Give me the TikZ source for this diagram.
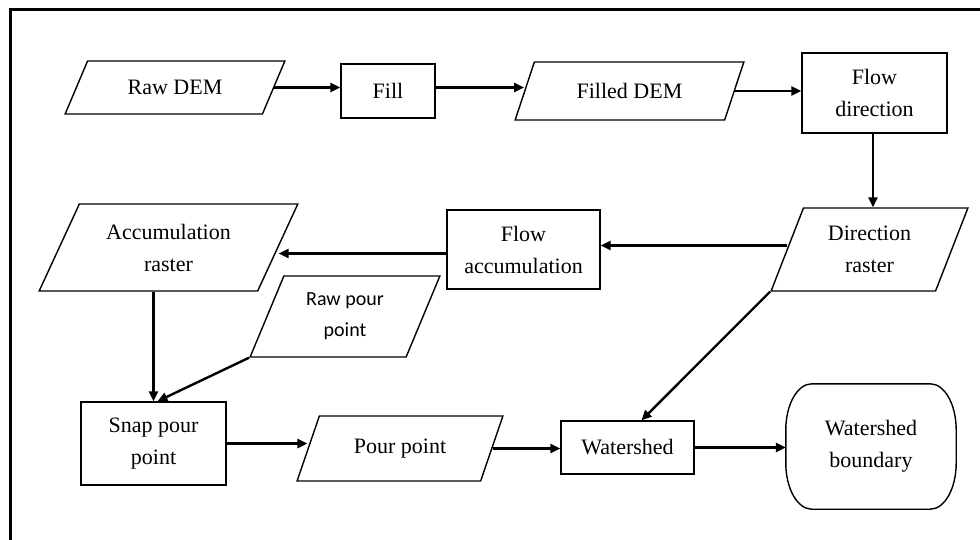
\documentclass[tikz,border=0pt]{standalone}
\usepackage{fontspec}
\setmainfont{Liberation Serif}
\newfontfamily\calfont{Carlito}
\usetikzlibrary{shapes.geometric,arrows.meta}

\begin{document}
\begin{tikzpicture}[x=1pt,y=-1pt,
  txt/.style={font=\fontsize{22}{32}\selectfont, align=center, text=black},
  procbox/.style={txt, draw, line width=1.4pt, rectangle, inner sep=0pt},
  databox/.style={txt, draw, line width=1.4pt, trapezium, trapezium left angle=#1,
    trapezium right angle={180-#1}, trapezium stretches=true, inner sep=0pt},
  termbox/.style={txt, rectangle, inner sep=0pt},
  termline/.style={line width=1.4pt},
  arr/.style={line width=2.4pt, -{Triangle[length=10pt,width=9pt]}},
]
\useasboundingbox (0,0) rectangle (980,540);
% outer frame
\draw[line width=3pt] (10,545) -- (10,10) -- (985,10);

% row 1
\node[databox=50.3, minimum width=220pt, minimum height=53pt] (rawdem) at (175,87.5) {Raw DEM};
\node[procbox, minimum width=94pt, minimum height=54pt] (fill) at (388,91) {Fill};
\node[databox=55.4, minimum width=229pt, minimum height=58pt] (filled) at (629.5,91) {Filled DEM};
\node[procbox, minimum width=145pt, minimum height=80pt] (flowdir) at (874.5,93) {Flow\\direction};

% row 2
\node[databox=66.5, minimum width=197pt, minimum height=83pt] (dirraster) at (869.5,249.5) {Direction\\raster};
\node[procbox, minimum width=153pt, minimum height=79pt] (flowacc) at (523.5,249.5) {Flow\\accumulation};
\node[databox=59.4, minimum width=259pt, minimum height=87pt] (accraster) at (168.5,247.5) {Accumulation\\raster};
\node[databox=65.5, minimum width=190pt, minimum height=81pt, font=\calfont\fontsize{20}{31}\selectfont] (rawpour) at (345,316.5) {Raw pour\\point};

% row 3
\node[procbox, minimum width=145pt, minimum height=83pt] (snap) at (153.5,443.5) {Snap pour\\point};
\node[databox=56.5, minimum width=206pt, minimum height=65pt] (pour) at (400,448.5) {Pour point};
\node[procbox, minimum width=133pt, minimum height=53pt] (watershed) at (627.5,447.5) {Watershed};
\node[termbox, minimum width=170pt, minimum height=125pt] (boundary) at (871,446.5) {Watershed\\boundary};

% terminator outline with elliptical corners
\draw[termline]
  ([xshift=26pt]boundary.north west) -- ([xshift=-26pt]boundary.north east)
  arc[start angle=90, end angle=0, x radius=26pt, y radius=46pt]
  -- ([yshift=46pt]boundary.south east)
  arc[start angle=0, end angle=-90, x radius=26pt, y radius=46pt]
  -- ([xshift=26pt]boundary.south west)
  arc[start angle=-90, end angle=-180, x radius=26pt, y radius=46pt]
  -- ([yshift=-46pt]boundary.north west)
  arc[start angle=180, end angle=90, x radius=26pt, y radius=46pt]
  -- cycle;

% connectors
\draw[arr] (rawdem.east) -- (rawdem.east -| fill.west);
\draw[arr] (fill.east |- rawdem.east) -- (fill.east |- rawdem.east -| filled.west);
\draw[arr] (filled.east) -- (filled.east -| flowdir.west);
\draw[arr] (flowdir.south -| 873,0) -- (dirraster.north -| 873,0);
\draw[arr] ([yshift=4pt]dirraster.west) -- ([yshift=4pt]dirraster.west -| flowacc.east);
\draw[arr] ([yshift=-4pt]flowacc.west) -- ([yshift=-4pt]flowacc.west -| accraster.east);
\draw[arr] (snap.north |- accraster.south) -- (snap.north);
\draw[arr] (rawpour.bottom left corner) -- ([xshift=4pt]snap.north);
\draw[arr] (snap.east) -- (snap.east -| pour.west);
\draw[arr] (pour.east) -- (pour.east -| watershed.west);
\draw[arr] (dirraster.bottom left corner) -- ([xshift=14pt]watershed.north);
\draw[arr] (watershed.east) -- (watershed.east -| boundary.west);
\end{tikzpicture}
\end{document}
